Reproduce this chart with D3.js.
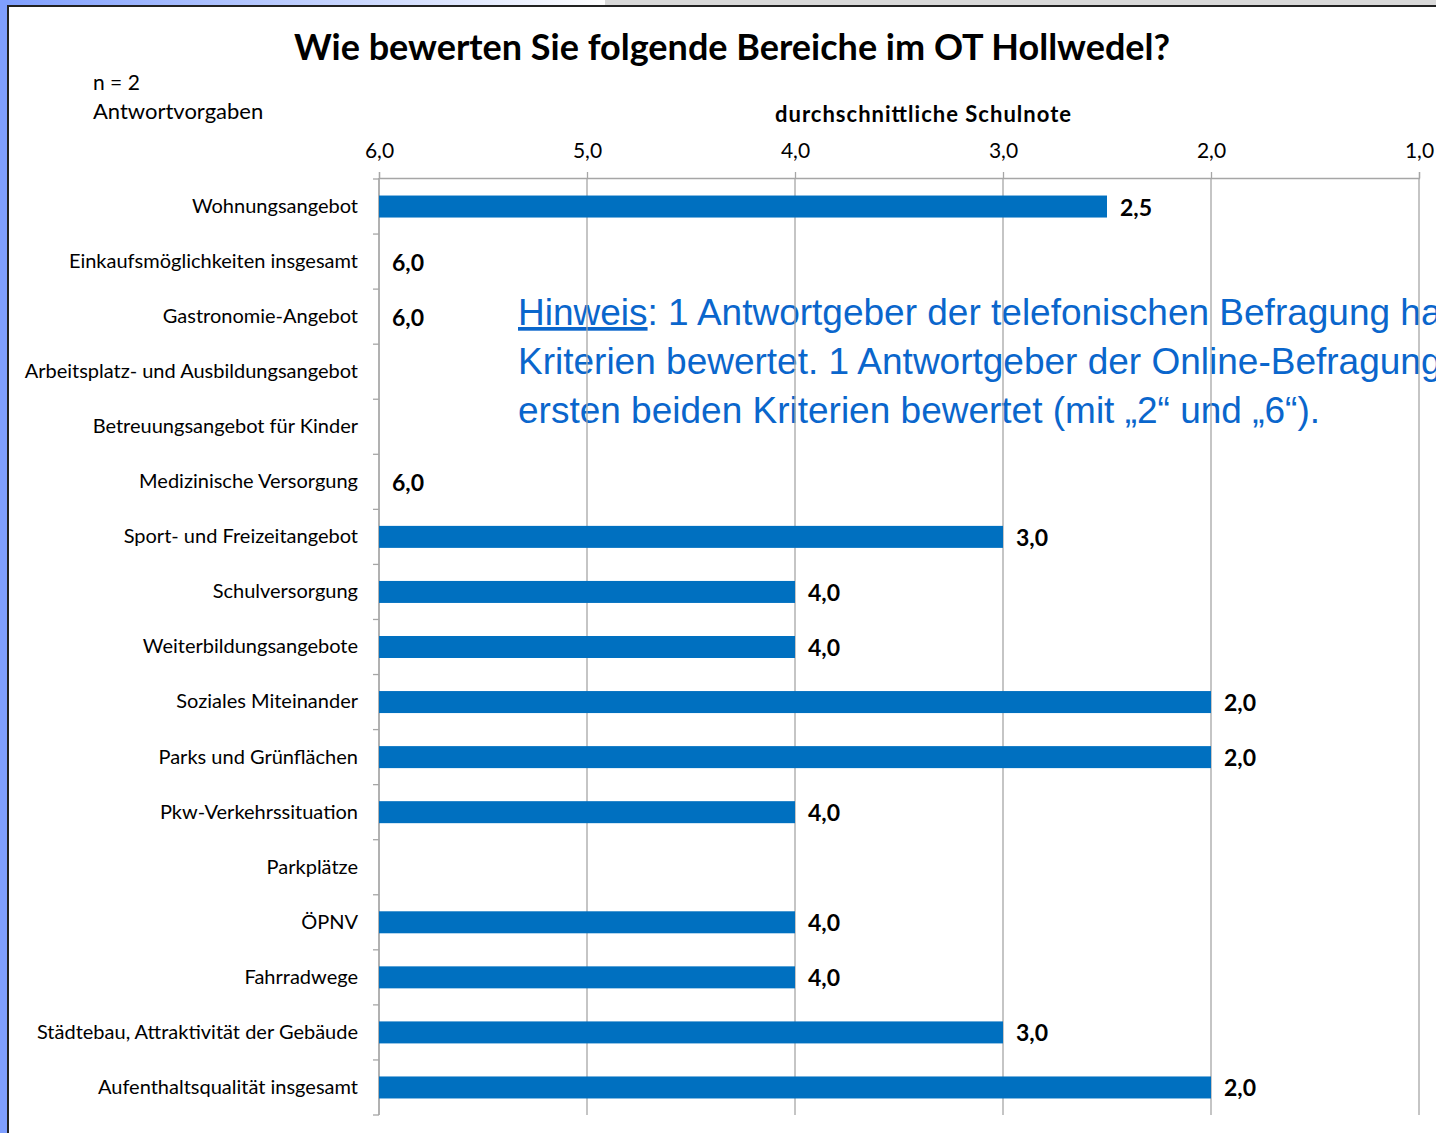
<html lang="de">
  <head>
    <meta charset="UTF-8" />
    <title>Hollwedel</title>
    <script src="https://cdn.jsdelivr.net/npm/d3@7"></script>
    <style>
      body { margin: 0; background: #fff; }
      svg text { font-family: Lato, "Open Sans", sans-serif; fill: #000; }
    </style>
  </head>
  <body>
    <script>
      const categories = [
        "Wohnungsangebot",
        "Einkaufsmöglichkeiten insgesamt",
        "Gastronomie-Angebot",
        "Arbeitsplatz- und Ausbildungsangebot",
        "Betreuungsangebot für Kinder",
        "Medizinische Versorgung",
        "Sport- und Freizeitangebot",
        "Schulversorgung",
        "Weiterbildungsangebote",
        "Soziales Miteinander",
        "Parks und Grünflächen",
        "Pkw-Verkehrssituation",
        "Parkplätze",
        "ÖPNV",
        "Fahrradwege",
        "Städtebau, Attraktivität der Gebäude",
        "Aufenthaltsqualität insgesamt"
      ];
      // null = keine Bewertung
      const values = [2.5, 6.0, 6.0, null, null, 6.0, 3.0, 4.0, 4.0, 2.0, 2.0, 4.0, null, 4.0, 4.0, 3.0, 2.0];
      const ticks = [6, 5, 4, 3, 2, 1];
      const hinweis = [
        ": 1 Antwortgeber der telefonischen Befragung hat keine",
        "Kriterien bewertet. 1 Antwortgeber der Online-Befragung hat nur die",
        "ersten beiden Kriterien bewertet (mit „2“ und „6“)."
      ];

      const W = 1436, H = 1133;
      const fmt = v => v.toFixed(1).replace(".", ",");

      const svg = d3.select("body").append("svg")
        .attr("width", W).attr("height", H);

      // frame
      const grad = svg.append("defs").append("linearGradient")
        .attr("id", "topg").attr("x1", 0).attr("x2", 1);
      grad.append("stop").attr("offset", 0).attr("stop-color", "#7f9fff");
      grad.append("stop").attr("offset", 1).attr("stop-color", "#ffffff");
      svg.append("rect").attr("x", 0).attr("y", 0).attr("width", 605).attr("height", 6).attr("fill", "url(#topg)");
      svg.append("rect").attr("x", 605).attr("y", 0).attr("width", W - 605).attr("height", 6).attr("fill", "#d9d9d9");
      svg.append("rect").attr("x", 0).attr("y", 0).attr("width", 8).attr("height", H).attr("fill", "#7f9fff");
      svg.append("rect").attr("x", 7).attr("y", 5).attr("width", W).attr("height", 2).attr("fill", "#222");
      svg.append("rect").attr("x", 7).attr("y", 5).attr("width", 2).attr("height", H).attr("fill", "#222");

      const x = d3.scaleLinear().domain([6, 1]).range([379, 1419]);
      const yb = d3.scaleBand().domain(categories).range([179, 1115]);

      // titles
      svg.append("text").attr("x", 732).attr("y", 60).attr("text-anchor", "middle")
        .style("font-size", "36px").style("font-weight", "bold")
        .text("Wie bewerten Sie folgende Bereiche im OT Hollwedel?");
      svg.append("text").attr("x", 93).attr("y", 90).style("font-size", "21px").text("n = 2");
      svg.append("text").attr("x", 93).attr("y", 119).style("font-size", "22px").text("Antwortvorgaben");
      svg.append("text").attr("x", 775).attr("y", 122)
        .attr("textLength", 296).attr("lengthAdjust", "spacing")
        .style("font-size", "22px").style("font-weight", "bold").text("durchschnittliche  Schulnote");

      // Hinweis (behind grid)
      const blue = "#0a66cc";
      const ht = svg.append("g");
      const l0 = ht.append("text").attr("x", 518).attr("y", 325)
        .style("font-size", "37px").style("fill", blue).style("font-family", '"Liberation Sans", Arial, sans-serif');
      l0.append("tspan").style("text-decoration", "underline").style("fill", blue).text("Hinweis");
      l0.append("tspan").style("fill", blue).text(hinweis[0]);
      ht.selectAll("text.l").data(hinweis.slice(1)).enter().append("text").attr("class", "l")
        .attr("x", 518).attr("y", (d, i) => 374 + i * 49)
        .style("font-size", "37px").style("fill", blue).style("font-family", '"Liberation Sans", Arial, sans-serif')
        .text(d => d);

      // grid
      svg.append("g").selectAll("line").data(ticks).enter().append("line")
        .attr("x1", d => x(d)).attr("x2", d => x(d))
        .attr("y1", 178).attr("y2", 1115)
        .attr("stroke", "#a6a6a6").attr("stroke-width", 1.3);

      // top axis
      const xa = svg.append("g").attr("transform", "translate(0,178)")
        .call(d3.axisTop(x).tickValues(ticks).tickFormat(fmt).tickSize(6).tickPadding(14));
      xa.select(".domain").attr("stroke", "#a6a6a6").attr("stroke-width", 1.3);
      xa.selectAll(".tick line").attr("stroke", "#a6a6a6").attr("stroke-width", 1.3);
      xa.selectAll("text").style("font-size", "21px").attr("fill", "#000");

      // left axis
      const ya = svg.append("g").attr("transform", "translate(379,0)")
        .call(d3.axisLeft(yb).tickSize(0).tickPadding(21));
      ya.select(".domain").remove();
      ya.selectAll("text").style("font-size", "20px").attr("fill", "#000");
      svg.append("line").attr("x1", 379).attr("x2", 379).attr("y1", 178).attr("y2", 1115)
        .attr("stroke", "#a6a6a6").attr("stroke-width", 1.3);
      svg.append("g").selectAll("line").data(d3.range(categories.length + 1)).enter().append("line")
        .attr("x1", 373).attr("x2", 379)
        .attr("y1", i => 179 + i * yb.step()).attr("y2", i => 179 + i * yb.step())
        .attr("stroke", "#a6a6a6").attr("stroke-width", 1.3);

      // bars
      const data = categories.map((c, i) => ({ c, v: values[i] })).filter(d => d.v !== null);
      svg.append("g").selectAll("rect").data(data).enter().append("rect")
        .attr("x", x(6)).attr("y", d => yb(d.c) + yb.bandwidth() / 2 - 11)
        .attr("width", d => x(d.v) - x(6)).attr("height", 22)
        .attr("fill", "#0070c0");
      svg.append("g").selectAll("text").data(data).enter().append("text")
        .attr("x", d => x(d.v) + 13).attr("y", d => yb(d.c) + yb.bandwidth() / 2 + 9)
        .style("font-size", "23px").style("font-weight", "bold")
        .text(d => fmt(d.v));
    </script>
  </body>
</html>
